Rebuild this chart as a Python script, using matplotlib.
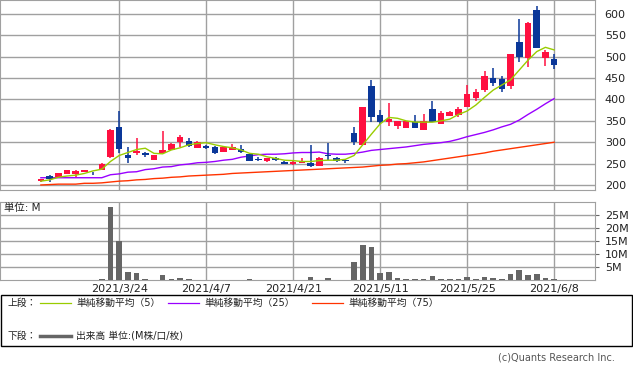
import matplotlib.pyplot as plt
from matplotlib.patches import Rectangle
from matplotlib.lines import Line2D

plt.rcParams['font.family'] = ['DejaVu Sans', 'Noto Sans CJK JP']

# daily candles, index 0 = 2021/3/11 ... 59 = 2021/6/8
opens = [209, 220, 219, 226, 225, 231, 229, 236, 265, 336,
         270, 275, 275, 259, 275, 283, 300, 303, 287, 291,
         290, 278, 282, 284, 272, 260, 257, 262, 254, 249,
         252, 251, 245, 270, 263, 258, 322, 294, 432, 363,
         348, 338, 334, 348, 329, 378, 343, 362, 364, 383,
         404, 422, 450, 448, 432, 535, 498, 609, 498, 495]
highs = [215, 223, 229, 236, 235, 235, 231, 251, 330, 373,
         290, 311, 277, 271, 326, 299, 317, 311, 302, 294,
         292, 290, 296, 294, 274, 265, 264, 265, 256, 255,
         263, 294, 265, 299, 265, 260, 335, 383, 446, 375,
         392, 350, 350, 364, 365, 396, 373, 372, 383, 434,
         425, 467, 474, 455, 507, 588, 581, 619, 516, 506]
lows = [207, 208, 218, 225, 219, 230, 224, 234, 264, 276,
        252, 270, 265, 258, 274, 281, 290, 289, 286, 285,
        273, 277, 281, 276, 256, 255, 253, 255, 249, 246,
        251, 243, 244, 258, 254, 252, 294, 293, 348, 343,
        339, 330, 333, 333, 328, 347, 342, 361, 360, 382,
        397, 418, 432, 418, 425, 488, 477, 520, 479, 471]
closes = [214, 213, 228, 235, 233, 234, 227, 249, 329, 284,
          264, 280, 269, 270, 282, 296, 312, 291, 300, 287,
          276, 288, 288, 278, 257, 259, 262, 258, 250, 254,
          255, 244, 263, 268, 255, 255, 301, 382, 358, 348,
          354, 349, 349, 334, 349, 348, 368, 371, 378, 414,
          418, 455, 439, 425, 506, 499, 580, 521, 510, 481]

ma5 = [209, 212, 218, 221, 223, 227, 233, 237, 255, 269,
       276, 283, 286, 274, 273, 282, 287, 294, 297, 299,
       294, 290, 287, 282, 274, 272, 266, 262, 258, 257,
       255, 255, 257, 258, 258, 260, 269, 294, 319, 343,
       358, 356, 350, 347, 347, 347, 350, 354, 365, 373,
       387, 405, 422, 434, 446, 469, 492, 512, 522, 516]
ma25 = [217, 217, 217, 217, 217, 217, 217, 217, 224, 226,
        230, 231, 236, 238, 242, 243, 247, 249, 252, 253,
        255, 258, 260, 265, 268, 271, 272, 272, 273, 275,
        276, 276, 277, 273, 272, 272, 274, 277, 281, 283,
        285, 287, 289, 292, 295, 297, 299, 302, 307, 313,
        318, 323, 329, 336, 342, 352, 365, 377, 390, 402]
ma75 = [200, 201, 202, 202, 202, 204, 204, 205, 207, 209,
        210, 212, 213, 215, 216, 218, 219, 221, 222, 223,
        224, 225, 227, 228, 229, 230, 231, 232, 233, 234,
        235, 236, 237, 238, 239, 240, 241, 242, 244, 246,
        247, 249, 250, 252, 254, 257, 260, 263, 266, 269,
        272, 275, 279, 282, 285, 288, 291, 294, 297, 300]

volume = [0.1, 0.1, 0.1, 0.1, 0.1, 0.1, 0.1, 0.4, 27.8, 14.8,
          3.2, 2.7, 0.5, 0.1, 1.9, 0.5, 0.8, 0.5, 0.1, 0.1,
          0.1, 0.1, 0.1, 0.1, 0.4, 0.1, 0.1, 0.1, 0.1, 0.1,
          0.1, 1.1, 0.1, 0.8, 0.1, 0.1, 6.9, 13.3, 12.6, 2.7,
          3.0, 0.8, 0.4, 0.5, 0.5, 1.5, 0.4, 0.2, 0.5, 1.1,
          0.5, 1.1, 0.8, 0.5, 2.2, 3.7, 2.0, 2.3, 0.8, 0.4]

tick_pos = [9, 19, 29, 39, 49, 59]
tick_labels = ['2021/3/24', '2021/4/7', '2021/4/21', '2021/5/11', '2021/5/25', '2021/6/8']

W, H = 633, 374
fig = plt.figure(figsize=(W / 100, H / 100), dpi=100)

def box(x0, y0, x1, y1):
    # pixel box (top-left origin) -> figure fraction rect
    return [x0 / W, 1 - y1 / H, (x1 - x0) / W, (y1 - y0) / H]

grid_c = '#a0a0a0'
red = '#ff1040'
blue = '#0a3799'
xlim = (-4.7, 63.7)

# upper panel: candles + moving averages
ax1 = fig.add_axes(box(0, 0, 595, 190))
ax1.set_xlim(*xlim)
ax1.set_ylim(188.3, 632.7)
ax1.set_yticks(range(200, 601, 50))
ax1.set_xticks(tick_pos)
ax1.grid(True, color=grid_c, lw=1.0)
ax1.set_axisbelow(True)
ax1.tick_params(length=0, labelbottom=False, labelleft=False, labelright=True,
                labelsize=8, pad=7, labelcolor='#222')
for s in ax1.spines.values():
    s.set_color(grid_c)

x = list(range(len(opens)))
ax1.plot(x, ma75, color='#ff3300', lw=1.0, zorder=2)
ax1.plot(x, ma25, color='#9900ff', lw=1.0, zorder=2)
for i in x:
    o, h, l, c = opens[i], highs[i], lows[i], closes[i]
    col = red if c >= o else blue
    ax1.vlines(i, l, h, color=col, lw=1.1, zorder=3)
    ax1.bar(i, max(abs(c - o), 1.5), bottom=min(o, c), width=0.75,
            color=col, zorder=3)
ax1.plot(x, ma5, color='#99cc00', lw=1.0, zorder=4)

# lower panel: volume
ax2 = fig.add_axes(box(0, 201.7, 595, 280))
ax2.set_xlim(*xlim)
ax2.set_ylim(0, 30)
ax2.set_yticks([5, 10, 15, 20, 25])
ax2.set_yticklabels(['5M', '10M', '15M', '20M', '25M'])
ax2.set_xticks(tick_pos)
ax2.set_xticklabels(tick_labels)
ax2.grid(True, color=grid_c, lw=1.0)
ax2.set_axisbelow(True)
ax2.tick_params(axis='y', length=3, color='#666', labelleft=False, labelright=True,
                left=False, right=True, labelsize=8, pad=4, labelcolor='#222')
ax2.tick_params(axis='x', length=0, labelsize=8, pad=3, labelcolor='#222')
for s in ax2.spines.values():
    s.set_color(grid_c)
ax2.bar(x, volume, width=0.65, color='#666666', zorder=3)
ax2.text(4 / 595, 0.92, '単位: M', transform=ax2.transAxes, fontsize=7.5,
         va='center', ha='left', color='#222')

# legend box
fig.patches.append(Rectangle((1 / W, 1 - 346 / H), 631 / W, 51 / H,
                             transform=fig.transFigure, fill=False,
                             edgecolor='black', lw=1.0))

def fx(px):
    return px / W

def fy(py):
    return 1 - py / H

row1, row2 = 303, 336
fig.text(fx(8), fy(row1), '上段：', fontsize=7, va='center', color='#222')
fig.text(fx(8), fy(row2), '下段：', fontsize=7, va='center', color='#222')
legend_items = [(40, 71, '#99cc00', '単純移動平均（5）'),
                (168, 199, '#9900ff', '単純移動平均（25）'),
                (312, 343, '#ff3300', '単純移動平均（75）')]
for x0, x1, col, label in legend_items:
    fig.add_artist(Line2D([fx(x0), fx(x1)], [fy(row1), fy(row1)], color=col, lw=0.9))
    fig.text(fx(x1 + 5), fy(row1), label, fontsize=7, va='center', color='#222')
fig.add_artist(Line2D([fx(40), fx(71)], [fy(row2), fy(row2)], color='#666666', lw=2.5))
fig.text(fx(76), fy(row2), '出来高 単位:(M株/口/枚)', fontsize=7, va='center', color='#222')

fig.text(fx(615), fy(358), '(c)Quants Research Inc.', fontsize=7, ha='right',
         va='center', color='#555')

fig.savefig('out.png', dpi=100)
